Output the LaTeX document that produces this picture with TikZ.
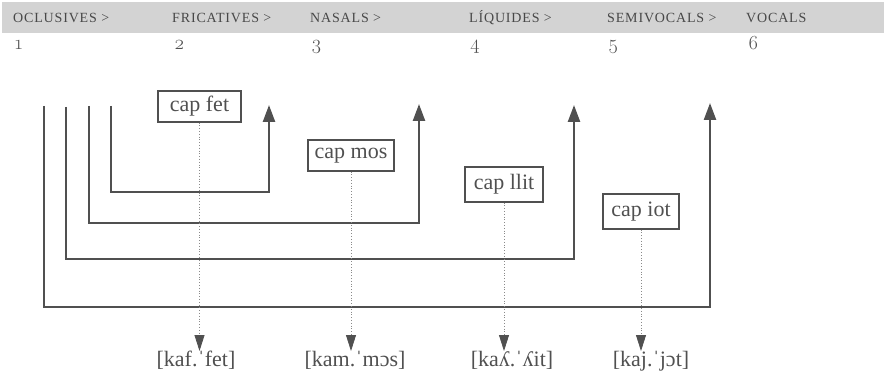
\documentclass[tikz,border=0pt]{standalone}
\usepackage{fontspec}
\setmainfont{Liberation Serif}
\newfontfamily\numfont[Numbers=OldStyle]{Latin Modern Roman}
\usetikzlibrary{arrows.meta}
\definecolor{ink}{HTML}{505050}
\definecolor{hdrtext}{HTML}{484848}
\definecolor{bar}{HTML}{D3D3D3}
\definecolor{guidegray}{HTML}{8A8A8A}

\begin{document}
\begin{tikzpicture}[x=1pt,y=-1pt,
  hdr/.style={anchor=base west, inner sep=0, text=hdrtext,
    font=\fontsize{14}{14}\selectfont\addfontfeature{LetterSpace=6}},
  num/.style={anchor=base west, inner sep=0, text=ink,
    font=\numfont\fontsize{20}{20}\selectfont},
  word/.style={draw=ink, line width=1.1pt, text=ink, inner sep=0,
    font=\fontsize{22}{22}\selectfont},
  ipa/.style={anchor=base, inner sep=0, text=ink,
    font=\fontsize{22}{22}\selectfont},
  route/.style={draw=ink, line width=2.4pt,
    -{Triangle[width=12pt,length=17pt]}},
  guide/.style={draw=guidegray, dotted, line width=0.8pt,
    -{Triangle[width=10pt,length=16pt,color=ink,fill=ink]}}]

\useasboundingbox (0,0) rectangle (886,377);

% header band with the classes of sounds
\fill[bar] (2,2) rectangle (884,33);
\node[hdr] (hOcl) at (13,23) {OCLUSIVES >};
\node[hdr] (hFri) at (172,23) {FRICATIVES >};
\node[hdr] (hNas) at (310,23) {NASALS >};
\node[hdr] (hLiq) at (469,23) {LÍQUIDES >};
\node[hdr] (hSem) at (607,23) {SEMIVOCALS >};
\node[hdr] (hVoc) at (746,23) {VOCALS};

% degree numbers
\node[num] (n1) at (15,50) {1};
\node[num] (n2) at (174,50) {2};
\node[num] (n3) at (311,50) {3};
\node[num] (n4) at (470,50) {4};
\node[num] (n5) at (608,50) {5};
\node[num] (n6) at (748,50) {6};

% nested brackets: start, bottom corner, arrow tip
\coordinate (a1) at (111,106); \coordinate (b1) at (111,192); \coordinate (t1) at (269,105);
\coordinate (a2) at (89,106);  \coordinate (b2) at (89,223);  \coordinate (t2) at (419,104);
\coordinate (a3) at (66,107);  \coordinate (b3) at (66,259);  \coordinate (t3) at (574,105);
\coordinate (a4) at (44,106);  \coordinate (b4) at (44,307);  \coordinate (t4) at (710,103);

\draw[route] (a4) -- (b4) -| (t4);
\draw[route] (a3) -- (b3) -| (t3);
\draw[route] (a2) -- (b2) -| (t2);
\draw[route] (a1) -- (b1) -| (t1);

% compound words
\node[word, minimum width=83pt, minimum height=31pt, fill=white] (wFet) at (199.5,106.5) {cap fet};
\node[word, minimum width=86pt, minimum height=31pt] (wMos) at (351,155.5) {cap mos};
\node[word, minimum width=78pt, minimum height=35pt] (wLlit) at (504,184.5) {cap llit};
\node[word, minimum width=76pt, minimum height=35pt] (wIot) at (641,211.5) {cap iot};

% transcriptions
\node[ipa] (pFet) at (196,366) {[kaf.ˈfet]};
\node[ipa] (pMos) at (355,366) {[kam.ˈmɔs]};
\node[ipa] (pLlit) at (512,366) {[kaʎ.ˈʎit]};
\node[ipa] (pIot) at (651,366) {[kaj.ˈjɔt]};

% dotted guides from word to transcription
\coordinate (tipline) at (0,351);
\draw[guide] (wFet.south) -- (wFet.south |- tipline);
\draw[guide] (wMos.south) -- (wMos.south |- tipline);
\draw[guide] (wLlit.south) -- (wLlit.south |- tipline);
\draw[guide] (wIot.south) -- (wIot.south |- tipline);
\end{tikzpicture}
\end{document}
